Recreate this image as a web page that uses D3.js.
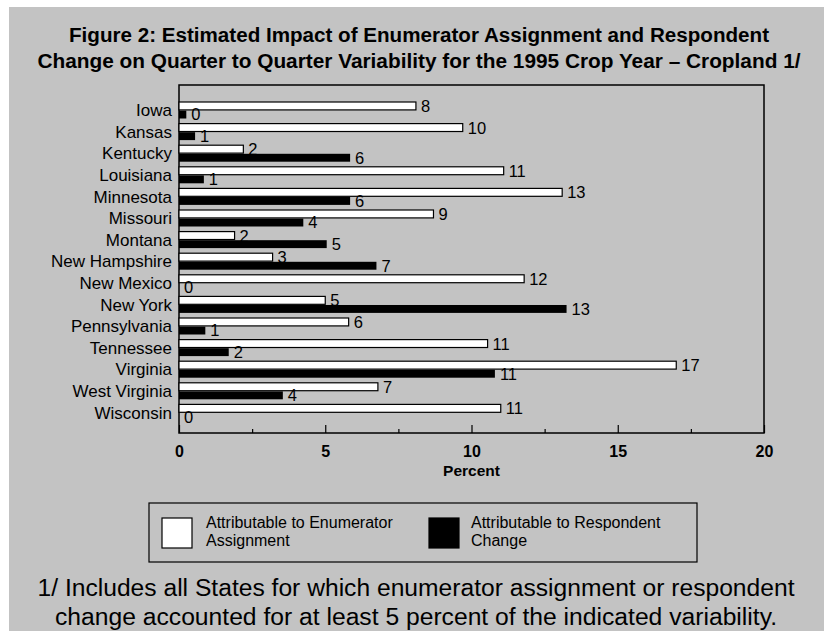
<!DOCTYPE html>
<html>
<head>
<meta charset="utf-8">
<script src="https://cdn.jsdelivr.net/npm/d3@7"></script>
<style>
  html, body { margin: 0; padding: 0; background: #c3c3c3; overflow: hidden; }
  svg { display: block; }
  text { font-family: "Liberation Sans", Arial, sans-serif; fill: #000; }
</style>
</head>
<body>
<svg id="chart" width="824" height="631"></svg>
<script>
// States shown in the figure, top to bottom
const states = ["Iowa", "Kansas", "Kentucky", "Louisiana", "Minnesota", "Missouri", "Montana",
  "New Hampshire", "New Mexico", "New York", "Pennsylvania", "Tennessee", "Virginia",
  "West Virginia", "Wisconsin"];

// Percent of quarter-to-quarter variability attributable to each source
const enumeratorAssignment = [8.1, 9.7, 2.2, 11.1, 13.1, 8.7, 1.9, 3.2, 11.8, 5.0, 5.8, 10.55, 17.0, 6.8, 11.0];
const respondentChange     = [0.25, 0.55, 5.85, 0.85, 5.85, 4.25, 5.05, 6.75, 0, 13.25, 0.9, 1.7, 10.8, 3.55, 0];

const seriesKeys = ["enum", "resp"];
const seriesNames = ["Attributable to Enumerator|Assignment", "Attributable to Respondent|Change"];
const seriesFill = { enum: "#ffffff", resp: "#000000" };

const majorTicks = [0, 5, 10, 15, 20];
const minorTicks = [2.5, 7.5, 12.5, 17.5];
const xTitle = "Percent";

const titleLines = [
  "Figure 2: Estimated Impact of Enumerator Assignment and Respondent",
  "Change on Quarter to Quarter Variability for the 1995 Crop Year \u2013 Cropland 1/"
];
const noteLines = [
  "1/ Includes all States for which enumerator assignment or respondent",
  "change accounted for at least 5 percent of the indicated variability."
];

const rows = states.map((s, i) => ({ state: s, enum: enumeratorAssignment[i], resp: respondentChange[i] }));

const svg = d3.select("#chart");

// page background and the light margin along the top and left edges
svg.append("rect").attr("width", 824).attr("height", 631).attr("fill", "#c3c3c3");
svg.append("rect").attr("x", 0).attr("y", 0).attr("width", 824).attr("height", 7).attr("fill", "#fff");
svg.append("rect").attr("x", 0).attr("y", 0).attr("width", 9).attr("height", 631).attr("fill", "#fff");

// title
svg.append("g").selectAll("text").data(titleLines).join("text")
  .attr("x", 419).attr("y", (d, i) => 42 + i * 26)
  .attr("text-anchor", "middle")
  .attr("font-size", 20).attr("font-weight", "bold")
  .attr("textLength", (d, i) => i === 0 ? 700 : 763)
  .attr("lengthAdjust", "spacingAndGlyphs")
  .text(d => d);

// plot frame
const plot = { left: 179, right: 764, top: 85, bottom: 433 };

const x = d3.scaleLinear().domain([0, 20]).range([plot.left, plot.right]);
const y = d3.scaleBand().domain(states).range([100, 424]).padding(0);
const ySub = d3.scaleBand().domain(seriesKeys).range([2, 18.5]).paddingInner(0.08);

svg.append("rect")
  .attr("x", plot.left).attr("y", plot.top)
  .attr("width", plot.right - plot.left).attr("height", plot.bottom - plot.top)
  .attr("fill", "none").attr("stroke", "#000").attr("stroke-width", 1.5);

// bars
const fmt = d3.format(".0f");
const groups = svg.append("g").selectAll("g").data(rows).join("g")
  .attr("transform", d => `translate(0,${y(d.state)})`);

groups.selectAll("rect").data(d => seriesKeys.map(k => ({ key: k, value: d[k] }))).join("rect")
  .attr("x", x(0))
  .attr("y", d => ySub(d.key))
  .attr("width", d => x(d.value) - x(0))
  .attr("height", ySub.bandwidth())
  .attr("fill", d => seriesFill[d.key])
  .attr("stroke", d => d.key === "enum" && d.value > 0 ? "#000" : "none")
  .attr("stroke-width", 1.2);

groups.selectAll("text").data(d => seriesKeys.map(k => ({ key: k, value: d[k] }))).join("text")
  .attr("x", d => x(d.value) + 5)
  .attr("y", d => ySub(d.key) + ySub.bandwidth() / 2)
  .attr("dy", "0.36em")
  .attr("font-size", 16.5)
  .text(d => fmt(d.value));

// category axis
const yAxis = svg.append("g")
  .attr("transform", `translate(${plot.left},0)`)
  .call(d3.axisLeft(y).tickSize(0).tickPadding(7));
yAxis.select(".domain").remove();
yAxis.selectAll("text").attr("font-size", 17).attr("font-family", "Liberation Sans, Arial, sans-serif");

// value axis: major and minor ticks pointing into the plot
const xAxis = svg.append("g")
  .attr("transform", `translate(0,${plot.bottom})`)
  .call(d3.axisBottom(x).tickValues(majorTicks).tickSizeInner(-8).tickSizeOuter(0).tickPadding(13));
xAxis.select(".domain").remove();
xAxis.selectAll("line").attr("stroke", "#000").attr("stroke-width", 1.2);
xAxis.selectAll("text").attr("font-size", 16).attr("font-weight", "bold")
  .attr("font-family", "Liberation Sans, Arial, sans-serif");

const xMinor = svg.append("g")
  .attr("transform", `translate(0,${plot.bottom})`)
  .call(d3.axisBottom(x).tickValues(minorTicks).tickSizeInner(-4).tickSizeOuter(0).tickFormat(""));
xMinor.select(".domain").remove();
xMinor.selectAll("line").attr("stroke", "#000").attr("stroke-width", 1.2);

svg.append("text")
  .attr("x", (plot.left + plot.right) / 2).attr("y", 476)
  .attr("text-anchor", "middle").attr("font-size", 15.5).attr("font-weight", "bold")
  .text(xTitle);

// legend
const legend = svg.append("g");
legend.append("rect").attr("x", 149).attr("y", 503).attr("width", 548).attr("height", 59)
  .attr("fill", "none").attr("stroke", "#000").attr("stroke-width", 1.2);
const legendItems = [
  { key: "enum", sx: 162, tx: 206 },
  { key: "resp", sx: 429, tx: 471 }
];
legendItems.forEach((it, i) => {
  legend.append("rect").attr("x", it.sx).attr("y", 518).attr("width", 30).attr("height", 30)
    .attr("fill", seriesFill[it.key]).attr("stroke", "#000").attr("stroke-width", 1.2);
  const parts = seriesNames[i].split("|");
  parts.forEach((p, j) => {
    legend.append("text").attr("x", it.tx).attr("y", 528 + j * 17.5)
      .attr("font-size", 16)
      .text(p);
  });
});

// footnote
svg.append("g").selectAll("text").data(noteLines).join("text")
  .attr("x", 416).attr("y", (d, i) => 596 + i * 29)
  .attr("text-anchor", "middle")
  .attr("font-size", 23)
  .attr("textLength", (d, i) => i === 0 ? 757 : 722)
  .attr("lengthAdjust", "spacingAndGlyphs")
  .text(d => d);
</script>
</body>
</html>
